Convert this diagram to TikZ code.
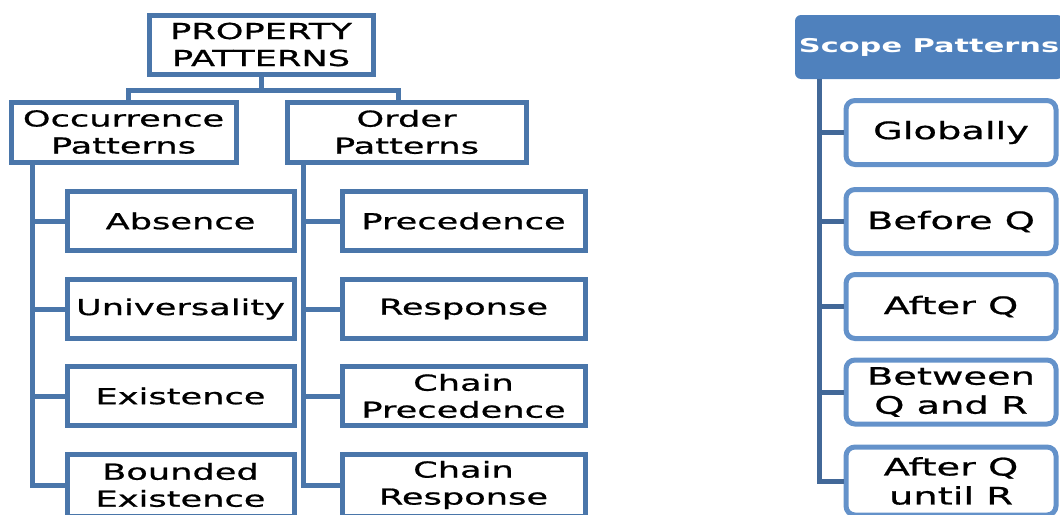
\documentclass[tikz,border=0pt]{standalone}
\usepackage{fontspec}
\setmainfont{DejaVu Sans}[FakeStretch=1.6,FakeBold=0.8,BoldFeatures={FakeBold=0}]
\definecolor{lineblue}{RGB}{74,118,170}
\definecolor{headblue}{RGB}{79,129,189}
\definecolor{sblue}{RGB}{100,146,202}
\definecolor{trunkblue}{RGB}{66,104,152}
\begin{document}
\begin{tikzpicture}[x=1pt,y=-1pt,
  tbox/.style={draw=lineblue, line width=5pt, fill=white, align=center, inner sep=0pt,
    font=\fontsize{22}{27}\selectfont},
  sbox/.style={draw=sblue, line width=5pt, rounded corners=9pt, fill=white, align=center, inner sep=0pt,
    minimum width=210pt, minimum height=64pt, font=\fontsize{24}{29}\selectfont},
  headbox/.style={fill=headblue, rounded corners=6pt, text=white, inner sep=0pt,
    minimum width=268pt, minimum height=64pt, font=\bfseries\fontsize{19}{23}\selectfont},
  link/.style={draw=lineblue, line width=5pt},
  slink/.style={draw=trunkblue, line width=5pt}]
\useasboundingbox (0,0) rectangle (1060,514);
% left tree
\node[tbox, minimum width=224pt, minimum height=59pt] (prop) at (261,44.5) {PROPERTY\\PATTERNS};
\node[tbox, minimum width=225pt, minimum height=60pt] (occ) at (123.5,132) {Occurrence\\Patterns};
\node[tbox, minimum width=239pt, minimum height=60pt] (ord) at (406.5,132) {Order\\Patterns};
\node[tbox, minimum width=227pt, minimum height=59pt] (abs) at (180.5,221) {Absence};
\node[tbox, minimum width=227pt, minimum height=59pt] (uni) at (180.5,309) {Universality};
\node[tbox, minimum width=227pt, minimum height=59pt] (exi) at (180.5,396) {Existence};
\node[tbox, minimum width=227pt, minimum height=62pt] (bex) at (180.5,485) {Bounded\\Existence};
\node[tbox, minimum width=243pt, minimum height=59pt] (pre) at (463.5,221) {Precedence};
\node[tbox, minimum width=243pt, minimum height=59pt] (res) at (463.5,309) {Response};
\node[tbox, minimum width=243pt, minimum height=59pt] (cpr) at (463.5,396) {Chain\\Precedence};
\node[tbox, minimum width=243pt, minimum height=62pt] (crs) at (463.5,485) {Chain\\Response};
\draw[link] (prop.south) -- ++(0,14) coordinate (bar) -| ([xshift=5pt]occ.north);
\draw[link] (bar) -| ([xshift=-8pt]ord.north);
\foreach \c in {abs,uni,exi,bex} \draw[link] ([xshift=24pt]occ.south west) |- (\c.west);
\foreach \c in {pre,res,cpr,crs} \draw[link] ([xshift=19pt]ord.south west) |- (\c.west);
% scope tree
\node[headbox] (scope) at (929,47) {Scope Patterns};
\node[sbox] (glo) at (951,132.5) {Globally};
\node[sbox] (bef) at (951,221.5) {Before Q};
\node[sbox] (aft) at (951,306.5) {After Q};
\node[sbox] (bet) at (951,392) {Between\\Q and R};
\node[sbox, minimum height=68pt] (unt) at (951,481) {After Q\\until R};
\foreach \c in {glo,bef,aft,bet,unt} \draw[slink] ([xshift=25pt]scope.south west) |- (\c.west);
\end{tikzpicture}
\end{document}
